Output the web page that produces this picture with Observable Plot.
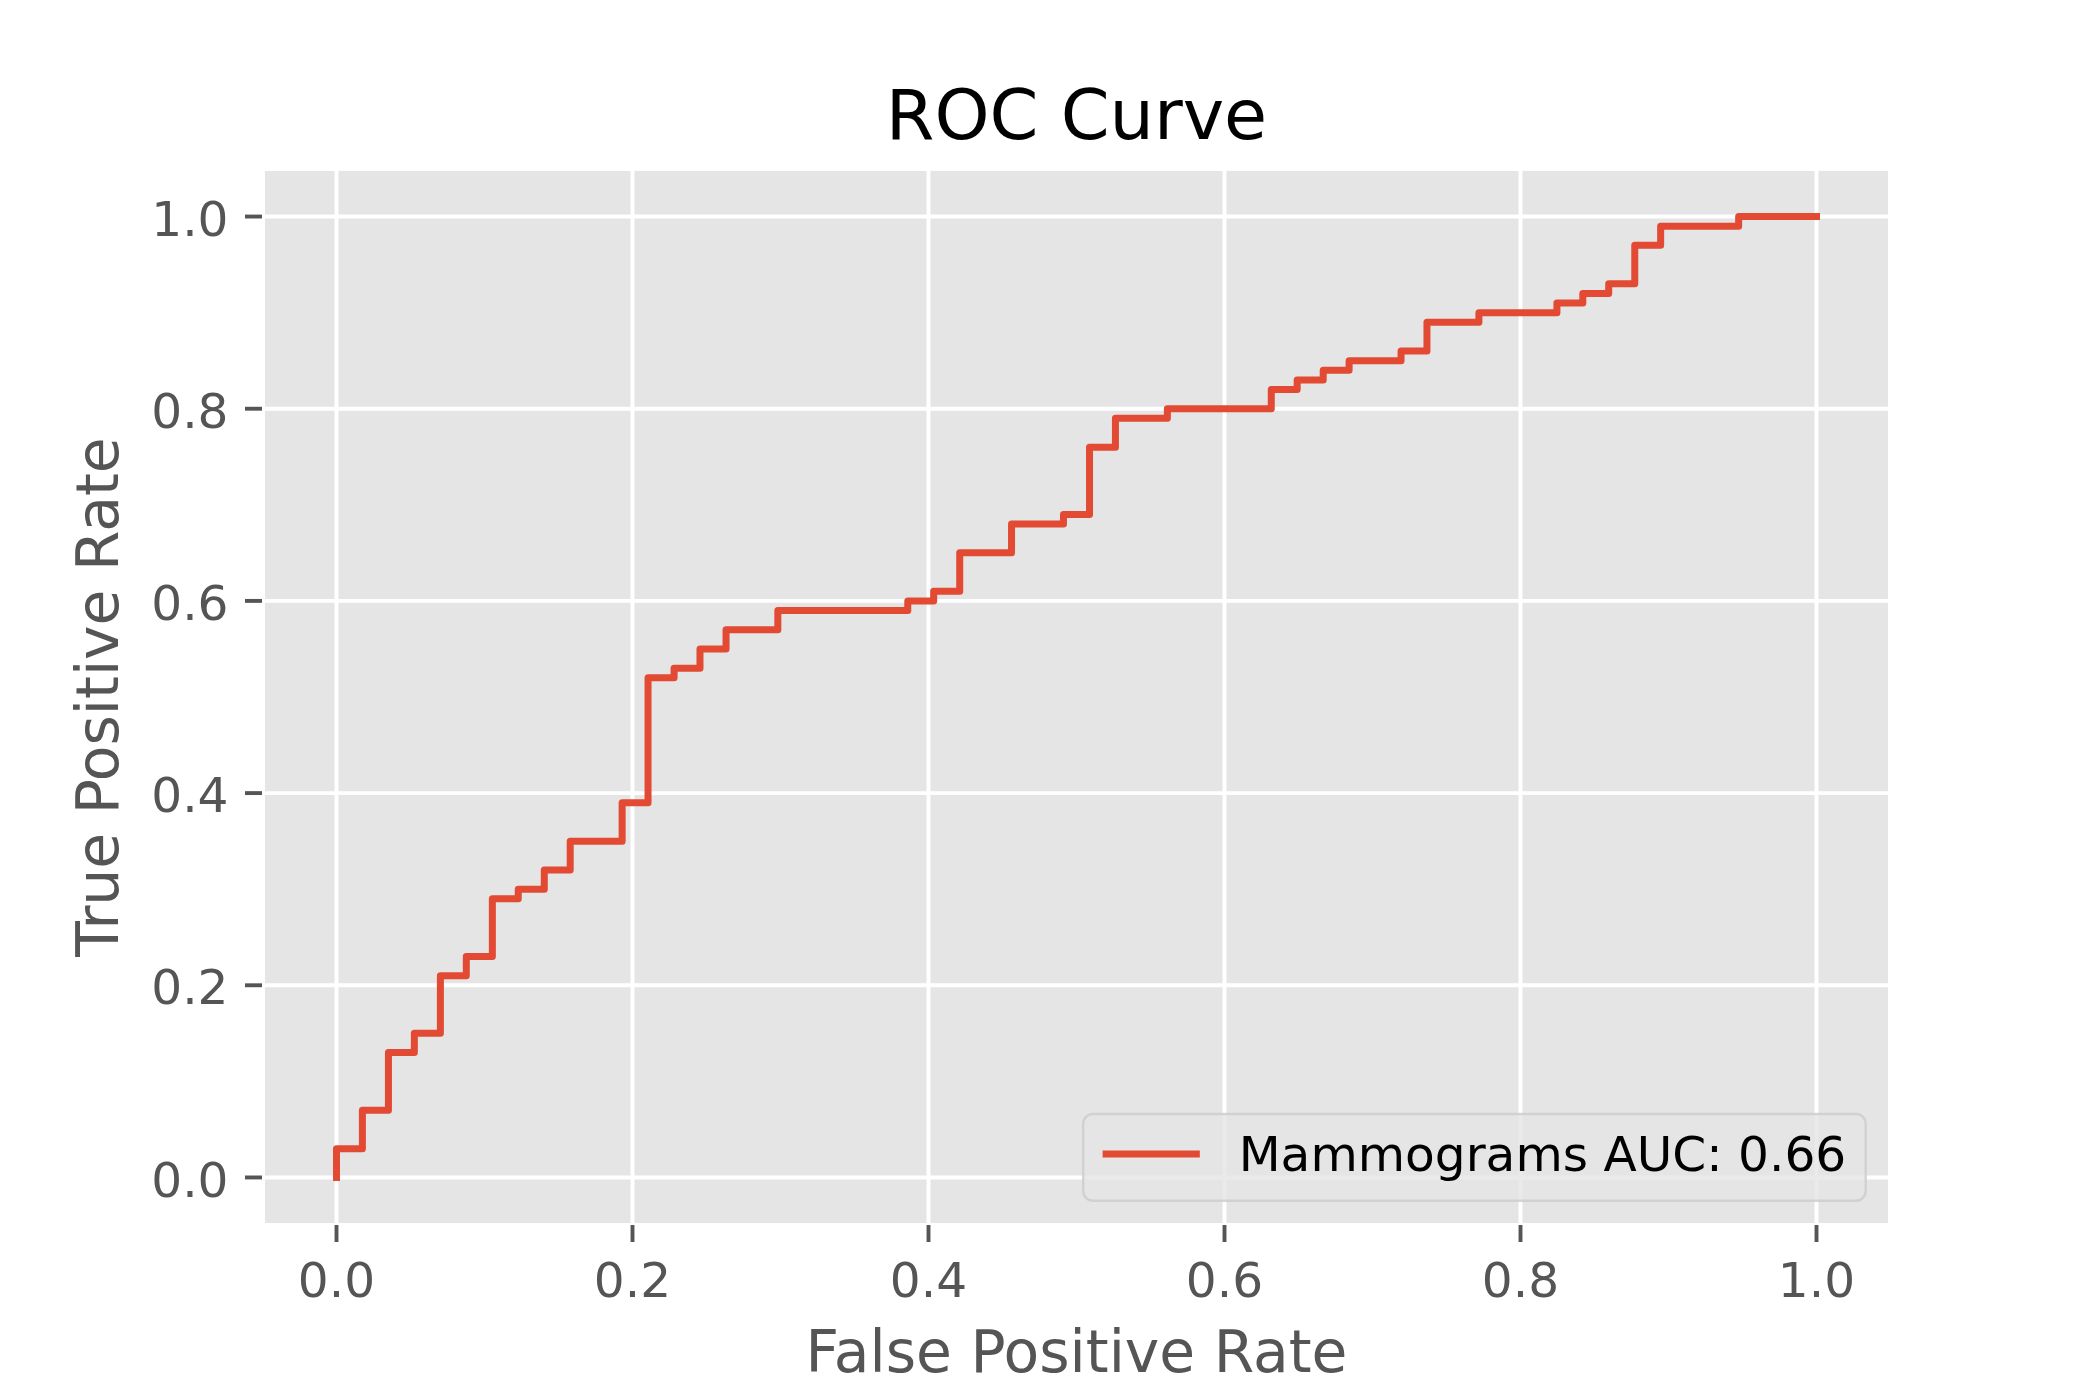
<!DOCTYPE html>
<html>
<head>
<meta charset="utf-8">
<script src="https://cdn.jsdelivr.net/npm/d3@7"></script>
<script src="https://cdn.jsdelivr.net/npm/@observablehq/plot@0.6"></script>
<style>
  html, body { margin: 0; padding: 0; background: white; }
  svg { display: block; }
</style>
</head>
<body>
<div id="chart"></div>
<script>
// ---- Data (ROC curve corner points) ----
const fpr = [0, 0, 0.0175, 0.0351, 0.0526, 0.0702, 0.0877, 0.1053, 0.1228, 0.1404, 0.1579,
  0.1930, 0.2105, 0.2281, 0.2456, 0.2632, 0.2982,
  0.3860, 0.4035, 0.4211, 0.4561, 0.4912, 0.5088, 0.5263, 0.5614,
  0.6316, 0.6491, 0.6667, 0.6842, 0.7193, 0.7368, 0.7719,
  0.8246, 0.8421, 0.8596, 0.8772, 0.8947, 0.9474, 1.0];
const tpr = [0, 0.03, 0.07, 0.13, 0.15, 0.21, 0.23, 0.29, 0.30, 0.32, 0.35,
  0.39, 0.52, 0.53, 0.55, 0.57, 0.59,
  0.60, 0.61, 0.65, 0.68, 0.69, 0.76, 0.79, 0.80,
  0.82, 0.83, 0.84, 0.85, 0.86, 0.89, 0.90,
  0.91, 0.92, 0.93, 0.97, 0.99, 1.00, 1.00];
const xTicks = [0, 0.2, 0.4, 0.6, 0.8, 1.0];
const yTicks = [0, 0.2, 0.4, 0.6, 0.8, 1.0];
const titleText = "ROC Curve";
const xLabel = "False Positive Rate";
const yLabel = "True Positive Rate";
const seriesLabel = "Mammograms AUC: 0.66";

const points = fpr.map((x, i) => ({x, y: tpr[i]}));

const FONT = "DejaVu Sans";
const RED = "#E24A33";
const GREY = "#555555";
const tickFs = 48.6, labelFs = 58.3, titleFs = 70;

function legendMark(index, scales, values, dims) {
  const fs = 48.6;
  const pad = 0.4 * fs, hl = 2 * fs, htp = 0.8 * fs;
  const cv = document.createElement("canvas").getContext("2d");
  cv.font = `${fs}px "${FONT}"`;
  const tw = cv.measureText(seriesLabel).width;
  const bw = 2 * pad + hl + htp + tw;
  const bh = 2 * pad + 47.8;
  const right = dims.width - dims.marginRight - 0.5 * fs;
  const bottom = dims.height - dims.marginBottom - 0.5 * fs;
  const left = right - bw, top = bottom - bh;
  const g = d3.create("svg:g").attr("text-anchor", "start");
  g.append("rect")
    .attr("x", left).attr("y", top).attr("width", bw).attr("height", bh)
    .attr("rx", 0.2 * fs).attr("ry", 0.2 * fs)
    .attr("fill", "#E5E5E5").attr("fill-opacity", 0.8)
    .attr("stroke", "#CCCCCC").attr("stroke-opacity", 0.8).attr("stroke-width", 2.4);
  g.append("line")
    .attr("x1", left + pad).attr("x2", left + pad + hl)
    .attr("y1", top + 40).attr("y2", top + 40)
    .attr("stroke", RED).attr("stroke-width", 7).attr("stroke-linecap", "butt");
  g.append("text")
    .attr("x", left + pad + hl + htp).attr("y", top + 57)
    .attr("text-anchor", "start")
    .attr("font-family", FONT).attr("font-size", fs).attr("fill", "black")
    .text(seriesLabel);
  return g.node();
}

const chart = Plot.plot({
  width: 2100,
  height: 1400,
  marginLeft: 262,
  marginRight: 210,
  marginTop: 168,
  marginBottom: 175,
  style: {fontFamily: FONT, background: "white", color: GREY},
  x: {domain: [-0.05, 1.05], nice: false},
  y: {domain: [-0.05, 1.05], nice: false},
  marks: [
    Plot.frame({fill: "#E5E5E5"}),
    Plot.gridX({ticks: xTicks, stroke: "white", strokeOpacity: 1, strokeWidth: 3.9}),
    Plot.gridY({ticks: yTicks, stroke: "white", strokeOpacity: 1, strokeWidth: 3.9}),
    Plot.frame({stroke: "white", strokeWidth: 4.9}),
    Plot.axisX({ticks: xTicks, tickFormat: d3.format(".1f"), tickSize: 17, tickPadding: 20,
      fontSize: tickFs, stroke: GREY, fill: GREY, strokeWidth: 3.9, label: null}),
    // y tick lines
    Plot.axisY({ticks: yTicks, tickFormat: () => "", tickSize: 17,
      stroke: GREY, strokeWidth: 3.9, label: null}),
    // y tick labels (nudged to match matplotlib's center_baseline)
    Plot.axisY({ticks: yTicks, tickFormat: d3.format(".1f"), tickSize: 0, tickPadding: 34,
      fontSize: tickFs, fill: GREY, label: null, dy: 3.6}),
    Plot.line(points, {x: "x", y: "y", curve: "step-after", stroke: RED, strokeWidth: 7,
      strokeLinecap: "square", strokeLinejoin: "round"}),
    Plot.text([titleText], {text: d => d, frameAnchor: "top", dy: -29.2, lineAnchor: "bottom",
      fontSize: titleFs, fill: "black"}),
    Plot.text([xLabel], {text: d => d, frameAnchor: "bottom", dy: 146.5, lineAnchor: "bottom",
      fontSize: labelFs, fill: GREY}),
    Plot.text([yLabel], {text: d => d, frameAnchor: "left", dx: -144.4, rotate: -90,
      lineAnchor: "bottom", textAnchor: "middle", fontSize: labelFs, fill: GREY}),
    legendMark
  ]
});
document.getElementById("chart").appendChild(chart);
</script>
</body>
</html>
